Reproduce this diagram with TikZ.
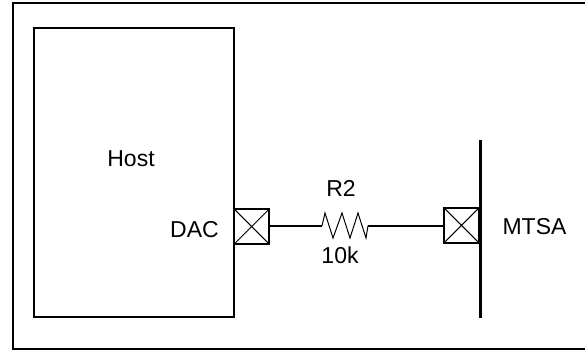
\documentclass[tikz,border=0pt]{standalone}
\usepackage{fontspec}
\setmainfont{Liberation Sans}
\tikzset{
  heavy/.style={draw=black,line width=2pt},
  boxnode/.style={heavy,inner sep=0pt,anchor=north west},
  pad/.style={heavy,minimum size=34.5pt,inner sep=0pt,
     path picture={\draw[line width=1pt] (path picture bounding box.north west)--(path picture bounding box.south east)
       (path picture bounding box.north east)--(path picture bounding box.south west);}},
  lbl/.style={font=\fontsize{23}{25}\selectfont,inner sep=0pt,text=black,anchor=base},
}
\begin{document}
\begin{tikzpicture}[x=1pt,y=-1pt]
\useasboundingbox (0,0) rectangle (585,349);
\draw[heavy,miter limit=10] (586,3) -- (13.3,3) -- (13.3,348.5) -- (586,348.5);
\node[boxnode,minimum width=199.7pt,minimum height=288.5pt] (host) at (33.3,27) {};
\node[pad] (p1) at (251.7,226.5) {};
\node[pad] (p2) at (461.5,225.3) {};
\coordinate (bartop) at (480.5,140);
\coordinate (barbot) at (480.5,318);
\draw[line width=3pt] (bartop) -- (barbot);
\coordinate (r1) at (322,225.7);
\coordinate (r2) at (368,225.7);
\draw[heavy] (p1.east |- r1) -- (r1);
\draw[heavy] (r2) -- (p2.west |- r2);
\draw[line width=1pt,line join=miter] (r1) -- (325,213) -- (333,238) -- (342,213) -- (350,238) -- (358,213) -- (366,238) -- (r2);
\node[lbl] (hostl) at (131,166) {Host};
\node[lbl] (dac) at (194.5,237.7) {DAC};
\node[lbl] (r) at (341,196) {R2};
\node[lbl] (k) at (340,263.3) {10k};
\node[lbl] (mtsa) at (534.5,234) {MTSA};
\end{tikzpicture}
\end{document}
